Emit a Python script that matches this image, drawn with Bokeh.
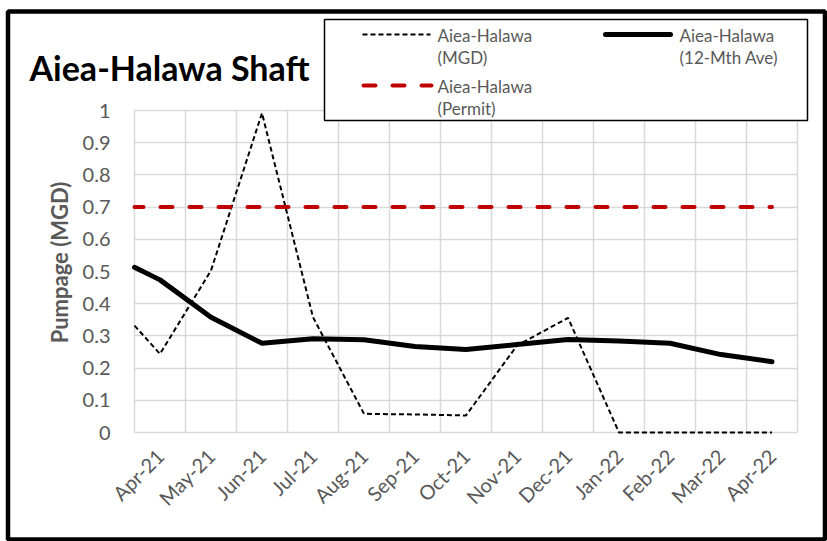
import math
from bokeh.plotting import figure
from bokeh.models import FixedTicker, Label, BoxAnnotation, Arrow, Range1d, Grid
from bokeh.embed import file_html
from bokeh.resources import INLINE

# ---------------- data ----------------
tick_labels = ["Apr-21", "May-21", "Jun-21", "Jul-21", "Aug-21", "Sep-21", "Oct-21",
               "Nov-21", "Dec-21", "Jan-22", "Feb-22", "Mar-22", "Apr-22"]
# first value = where each line enters the plot at the start of Apr-21,
# then one value per month (mid-month)
mgd = [0.332, 0.244, 0.503, 0.992, 0.358, 0.058, 0.056, 0.053, 0.27, 0.356,
       0.0, 0.0, 0.0, 0.0]
ave12 = [0.513, 0.474, 0.358, 0.277, 0.291, 0.288, 0.267, 0.258, 0.273, 0.289,
         0.284, 0.277, 0.242, 0.220]
permit = [0.7, 0.7, 0.7, 0.7, 0.7, 0.7, 0.7, 0.7, 0.7, 0.7, 0.7, 0.7, 0.7, 0.7]
y_ticks = [0, 0.1, 0.2, 0.3, 0.4, 0.5, 0.6, 0.7, 0.8, 0.9, 1]
y_tick_labels = ["0", "0.1", "0.2", "0.3", "0.4", "0.5", "0.6", "0.7", "0.8", "0.9", "1"]
title_text = "Aiea-Halawa Shaft"
y_title = "Pumpage (MGD)"
legend_line1 = ["Aiea-Halawa", "Aiea-Halawa", "Aiea-Halawa"]
legend_line2 = ["(MGD)", "(12-Mth Ave)", "(Permit)"]

n = len(tick_labels)
xs = [0] + [i + 0.5 for i in range(n)]

FONT = "Lato"
GRAY = "#595959"
GRID = "#D9D9D9"

# ---------------- layout (page pixels) ----------------
W, H = 827, 541
FL, FR, FT, FB = 134, 797, 110, 432          # plot area
ux = (FR - FL) / n
uy = (FB - FT) / 1.0

p = figure(width=W, height=H,
           x_range=Range1d(-FL / ux, (W - FL) / ux),
           y_range=Range1d(-(H - FB) / uy, FB / uy),
           output_backend="svg", toolbar_location=None, min_border=0)
p.min_border_left = p.min_border_right = p.min_border_top = p.min_border_bottom = 0
p.outline_line_color = None
p.background_fill_color = "white"
p.border_fill_color = "white"

def sx(px):
    return px

def sy(py):
    return H - py

# grid
p.xgrid.ticker = FixedTicker(ticks=list(range(n + 1)))
p.ygrid.ticker = FixedTicker(ticks=y_ticks)
for g in (p.xgrid, p.ygrid):
    g.grid_line_color = GRID
    g.grid_line_width = 1.5
if "cross_bounds" in Grid.properties():
    p.xgrid.cross_bounds = (0, 1)
    p.ygrid.cross_bounds = (0, n)
else:
    for kw in (dict(right=sx(FL - 0.9)), dict(left=sx(FR + 0.9)),
               dict(bottom=sy(FT - 0.9)), dict(top=sy(FB + 0.9))):
        p.add_layout(BoxAnnotation(**kw, left_units="screen", right_units="screen",
                                   top_units="screen", bottom_units="screen",
                                   fill_color="white", fill_alpha=1, line_color=None,
                                   level="underlay"))

# axes (fixed inside the frame)
p.xaxis.fixed_location = 0
p.yaxis.fixed_location = 0
p.xaxis.ticker = FixedTicker(ticks=[i + 0.5 for i in range(n)])
p.xaxis.major_label_overrides = {i + 0.5: t for i, t in enumerate(tick_labels)}
p.xaxis.major_label_orientation = math.pi / 4
p.yaxis.ticker = FixedTicker(ticks=y_ticks)
p.yaxis.major_label_overrides = {v: t for v, t in zip(y_ticks, y_tick_labels)}
for ax in (p.xaxis, p.yaxis):
    ax.axis_line_color = None
    ax.major_tick_line_color = None
    ax.minor_tick_line_color = None
    ax.major_tick_out = 0
    ax.major_tick_in = 0
    ax.major_label_text_color = GRAY
    ax.major_label_text_font = FONT
    ax.major_label_text_font_size = "20px"
p.yaxis.major_label_standoff = 24
p.xaxis.major_label_standoff = 20

# series
p.line(xs, mgd, line_color="black", line_width=2, line_dash="5 3")
p.line(xs, ave12, line_color="black", line_width=5, line_join="round", line_cap="round")
p.line(xs, permit, line_color="#C00000", line_width=4, line_dash="12 17",
       line_cap="round", line_dash_offset=3)

# outer border
p.add_layout(BoxAnnotation(left=sx(7.5), right=sx(824.5), top=sy(11), bottom=sy(539),
                           left_units="screen", right_units="screen",
                           top_units="screen", bottom_units="screen",
                           fill_alpha=0, line_color="black", line_alpha=1,
                           line_width=4.5, level="overlay"))

# title
p.add_layout(Label(x=sx(29), y=sy(67), x_units="screen", y_units="screen", text=title_text,
                   text_font=FONT, text_font_style="bold", text_font_size="34px",
                   text_color="black", text_align="left", text_baseline="alphabetic"))

# y title
p.add_layout(Label(x=sx(59), y=sy(262), x_units="screen", y_units="screen", text=y_title,
                   angle=math.pi / 2, text_font=FONT, text_font_style="bold",
                   text_font_size="22px", text_color=GRAY, text_align="center",
                   text_baseline="middle"))

# legend
p.add_layout(BoxAnnotation(left=sx(324), right=sx(807), top=sy(19), bottom=sy(120),
                           left_units="screen", right_units="screen",
                           top_units="screen", bottom_units="screen",
                           fill_color="white", fill_alpha=1, line_color="black",
                           line_alpha=1, line_width=1.5, level="overlay"))
samples = [
    dict(x0=362, x1=430, y=34, line_color="black", line_width=2, line_dash="5 3", cap="butt"),
    dict(x0=605, x1=670, y=34, line_color="black", line_width=5, line_dash="solid", cap="round"),
    dict(x0=363, x1=431, y=85, line_color="#C00000", line_width=4, line_dash="12 17", cap="round"),
]
text_x = [437, 679, 437]
for s, tx, l1, l2 in zip(samples, text_x, legend_line1, legend_line2):
    p.add_layout(Arrow(end=None, x_start=sx(s["x0"]), y_start=sy(s["y"]),
                       x_end=sx(s["x1"]), y_end=sy(s["y"]),
                       start_units="screen", end_units="screen",
                       line_color=s["line_color"], line_width=s["line_width"],
                       line_dash=s["line_dash"], line_cap=s["cap"], level="overlay"))
    p.add_layout(Label(x=sx(tx), y=sy(s["y"] + 1), x_units="screen", y_units="screen", text=l1,
                       text_font=FONT, text_font_size="17px", text_color=GRAY,
                       text_align="left", text_baseline="middle", level="overlay"))
    p.add_layout(Label(x=sx(tx), y=sy(s["y"] + 23), x_units="screen", y_units="screen", text=l2,
                       text_font=FONT, text_font_size="17px", text_color=GRAY,
                       text_align="left", text_baseline="middle", level="overlay"))

open("out.html", "w").write(file_html(p, INLINE))
